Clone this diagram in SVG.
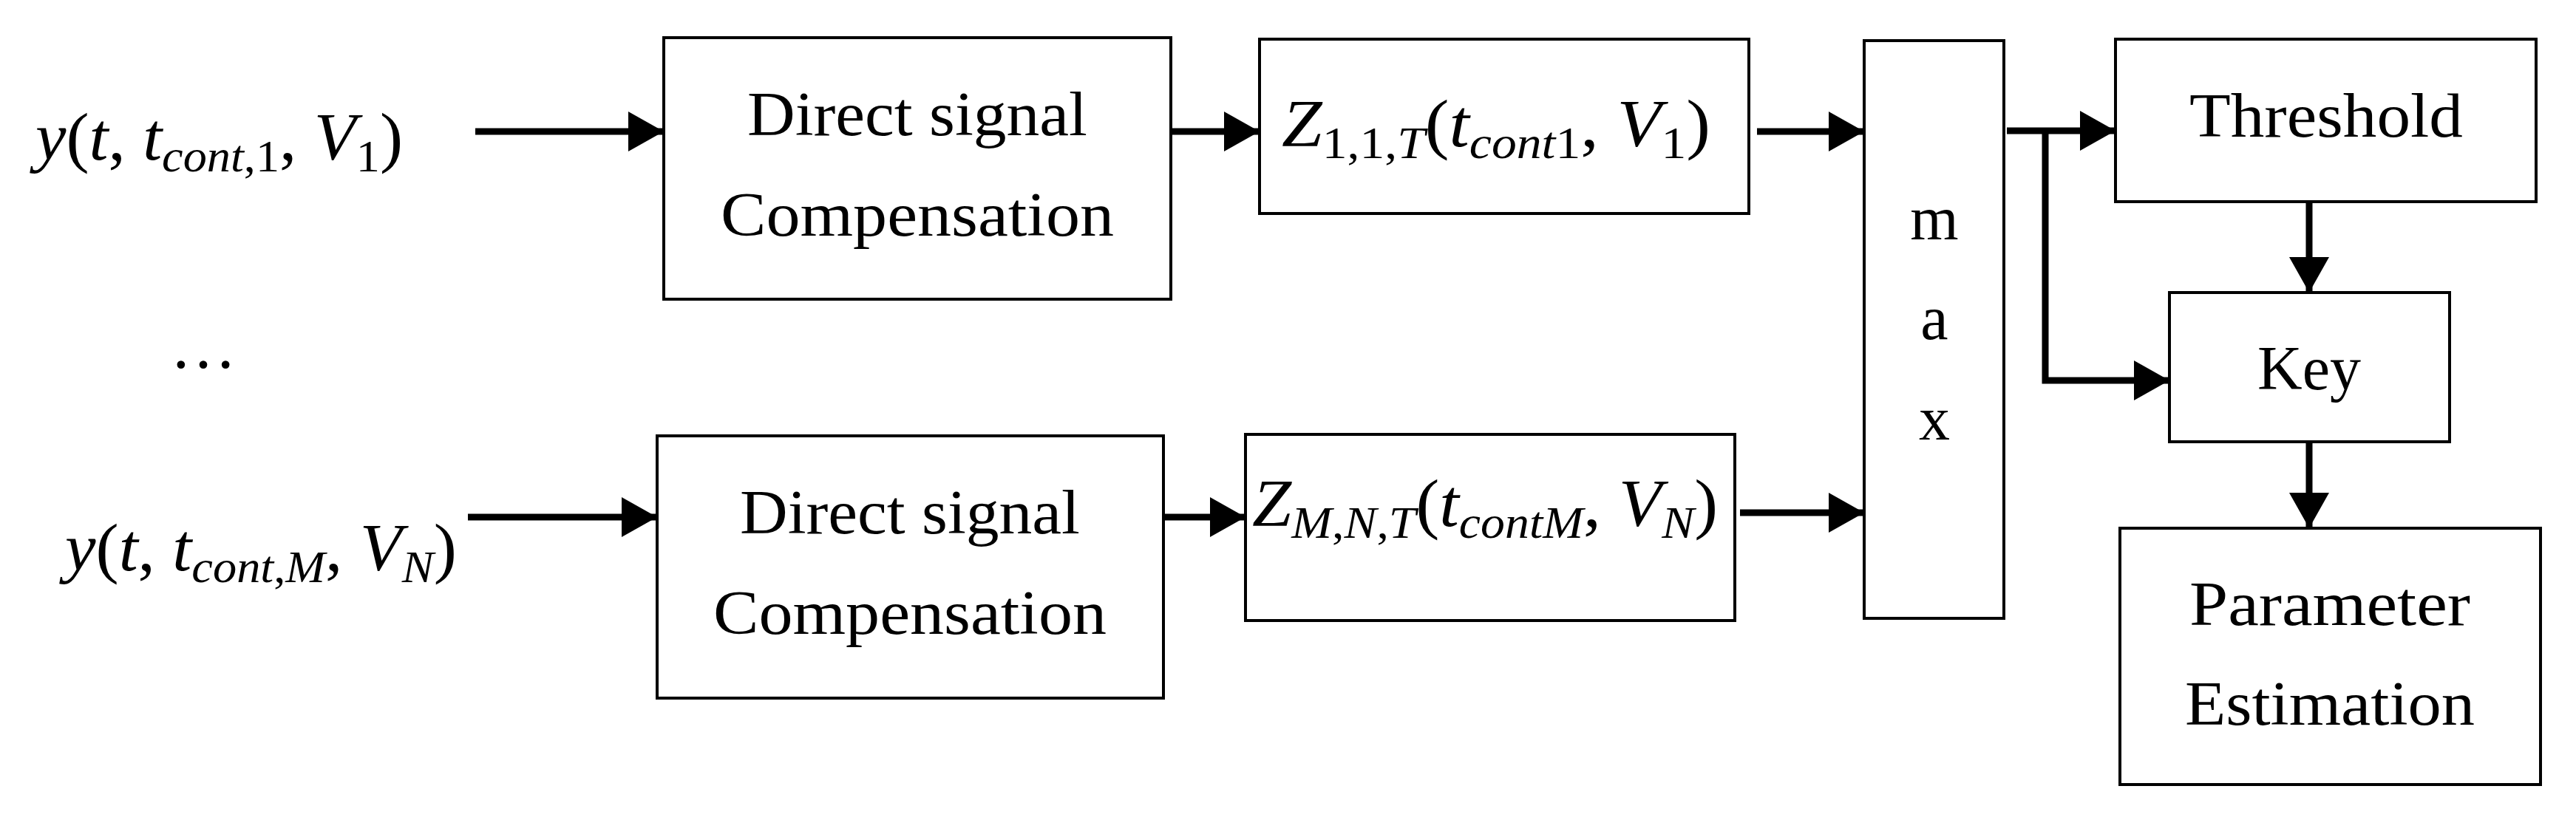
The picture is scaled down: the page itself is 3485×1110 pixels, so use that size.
<svg xmlns="http://www.w3.org/2000/svg" width="3485" height="1110" viewBox="0 0 3485 1110">
<style>
.box{fill:#fff;stroke:#000;stroke-width:4}
.t{font-family:"Liberation Serif",serif;font-size:84px;fill:#000;text-anchor:middle}
.m{font-family:"Liberation Serif",serif;font-size:90px;fill:#000}
.i{font-style:italic}
.c{stroke:#000;stroke-width:9;fill:none}
</style>
<defs>
<marker id="ah" viewBox="0 0 48 54" refX="48" refY="27" markerWidth="48" markerHeight="54" markerUnits="userSpaceOnUse" orient="auto"><path d="M0,0 L48,27 L0,54 Z" fill="#000"/></marker>
</defs>
<g id="label1"><text class="m" x="48" y="216" textLength="497" lengthAdjust="spacingAndGlyphs"><tspan class="i">y</tspan>(<tspan class="i">t</tspan>, <tspan class="i">t</tspan><tspan class="i" font-size="62" dy="16">cont</tspan><tspan font-size="62">,1</tspan><tspan dy="-16">, </tspan><tspan class="i">V</tspan><tspan font-size="62" dy="16">1</tspan><tspan dy="-16">)</tspan></text></g>
<g id="dots"><text class="m" x="230" y="498" font-size="110">…</text></g>
<g id="label2"><text class="m" x="88" y="772" textLength="530" lengthAdjust="spacingAndGlyphs"><tspan class="i">y</tspan>(<tspan class="i">t</tspan>, <tspan class="i">t</tspan><tspan class="i" font-size="62" dy="16">cont</tspan><tspan font-size="62">,</tspan><tspan class="i" font-size="62">M</tspan><tspan dy="-16">, </tspan><tspan class="i">V</tspan><tspan class="i" font-size="62" dy="16">N</tspan><tspan dy="-16">)</tspan></text></g>
<g id="dsc1"><rect class="box" x="898" y="51" width="686" height="354"/><text class="t" x="1241" y="183" textLength="460" lengthAdjust="spacingAndGlyphs">Direct signal</text><text class="t" x="1241" y="319" textLength="532" lengthAdjust="spacingAndGlyphs">Compensation</text></g>
<g id="dsc2"><rect class="box" x="889" y="590" width="685" height="355"/><text class="t" x="1231" y="722" textLength="460" lengthAdjust="spacingAndGlyphs">Direct signal</text><text class="t" x="1231" y="858" textLength="532" lengthAdjust="spacingAndGlyphs">Compensation</text></g>
<g id="z1"><rect class="box" x="1704" y="53" width="662" height="236"/><text class="m" x="1734" y="198" textLength="580" lengthAdjust="spacingAndGlyphs"><tspan class="i">Z</tspan><tspan font-size="62" dy="16">1,1,</tspan><tspan class="i" font-size="62">T</tspan><tspan dy="-16">(</tspan><tspan class="i">t</tspan><tspan class="i" font-size="62" dy="16">cont</tspan><tspan font-size="62">1</tspan><tspan dy="-16">, </tspan><tspan class="i">V</tspan><tspan font-size="62" dy="16">1</tspan><tspan dy="-16">)</tspan></text></g>
<g id="z2"><rect class="box" x="1685" y="588" width="662" height="252"/><text class="m" x="1694" y="712" textLength="630" lengthAdjust="spacingAndGlyphs"><tspan class="i">Z</tspan><tspan class="i" font-size="62" dy="16">M</tspan><tspan font-size="62">,</tspan><tspan class="i" font-size="62">N</tspan><tspan font-size="62">,</tspan><tspan class="i" font-size="62">T</tspan><tspan dy="-16">(</tspan><tspan class="i">t</tspan><tspan class="i" font-size="62" dy="16">contM</tspan><tspan dy="-16">, </tspan><tspan class="i">V</tspan><tspan class="i" font-size="62" dy="16">N</tspan><tspan dy="-16">)</tspan></text></g>
<g id="max"><rect class="box" x="2522" y="55" width="189" height="782"/><text class="t" x="2617" y="324">m</text><text class="t" x="2617" y="459">a</text><text class="t" x="2617" y="595">x</text></g>
<g id="threshold"><rect class="box" x="2862" y="53" width="569" height="220"/><text class="t" x="3147" y="185" textLength="370" lengthAdjust="spacingAndGlyphs">Threshold</text></g>
<g id="key"><rect class="box" x="2935" y="396" width="379" height="202"/><text class="t" x="3124" y="527">Key</text></g>
<g id="pe"><rect class="box" x="2868" y="715" width="569" height="347"/><text class="t" x="3152" y="846" textLength="380" lengthAdjust="spacingAndGlyphs">Parameter</text><text class="t" x="3152" y="981" textLength="392" lengthAdjust="spacingAndGlyphs">Estimation</text></g>
<g id="connectors">
<line class="c" x1="643" y1="178" x2="898" y2="178" marker-end="url(#ah)"/>
<line class="c" x1="633" y1="700" x2="889" y2="700" marker-end="url(#ah)"/>
<line class="c" x1="1584" y1="178" x2="1704" y2="178" marker-end="url(#ah)"/>
<line class="c" x1="1574" y1="700" x2="1685" y2="700" marker-end="url(#ah)"/>
<line class="c" x1="2377" y1="178" x2="2522" y2="178" marker-end="url(#ah)"/>
<line class="c" x1="2354" y1="694" x2="2522" y2="694" marker-end="url(#ah)"/>
<line class="c" x1="2715" y1="177" x2="2862" y2="177" marker-end="url(#ah)"/>
<polyline class="c" points="2767,177 2767,515 2935,515" marker-end="url(#ah)"/>
<line class="c" x1="3124" y1="273" x2="3124" y2="396" marker-end="url(#ah)"/>
<line class="c" x1="3124" y1="598" x2="3124" y2="715" marker-end="url(#ah)"/>
</g>
</svg>
